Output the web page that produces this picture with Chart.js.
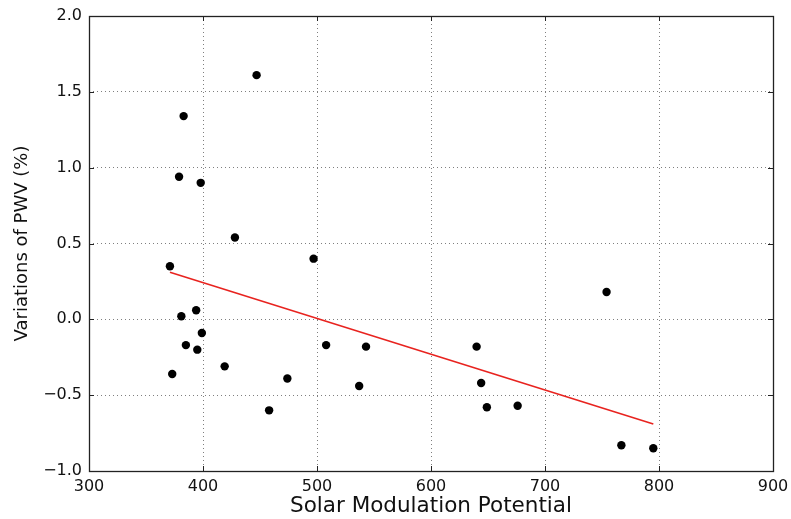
<!DOCTYPE html>
<html>
<head>
<meta charset="utf-8">
<script src="https://cdn.jsdelivr.net/npm/chart.js@4/dist/chart.umd.min.js"></script>
<style>
  html, body { margin: 0; padding: 0; background: #fff; }
  #wrap { width: 791px; height: 519px; }
</style>
</head>
<body>
<div id="wrap"><canvas id="pwvChart"></canvas></div>
<script>
// solar modulation potential vs. PWV variation
const modulation = [447, 383, 379, 398, 428, 371, 381, 394, 399, 385, 395, 419, 373,
                    497, 508, 543, 474, 537, 458, 640, 644, 649, 676, 754, 767, 795];
const pwvVariation = [1.61, 1.34, 0.94, 0.90, 0.54, 0.35, 0.02, 0.06, -0.09, -0.17, -0.20, -0.31, -0.36,
                      0.40, -0.17, -0.18, -0.39, -0.44, -0.60, -0.18, -0.42, -0.58, -0.57, 0.18, -0.83, -0.85];

// least-squares line end points
const fitX = [371, 795];
const fitY = [0.31, -0.69];

const xTicks = [300, 400, 500, 600, 700, 800, 900];
const yTicks = [-1.0, -0.5, 0.0, 0.5, 1.0, 1.5, 2.0];

const FONT = 'DejaVu Sans';

function fmtY(v) {
  const s = Math.abs(v).toFixed(1);
  return v < 0 ? '\u2212' + s : s;
}

// frame with inward ticks on all four sides
const frameTicks = {
  id: 'frameTicks',
  afterDraw(chart) {
    const { ctx, chartArea: a, scales } = chart;
    const len = 5;
    ctx.save();
    ctx.strokeStyle = '#222';
    ctx.lineWidth = 1;
    ctx.beginPath();
    xTicks.forEach(t => {
      const x = Math.round(scales.x.getPixelForValue(t)) + 0.5;
      ctx.moveTo(x, a.bottom); ctx.lineTo(x, a.bottom - len);
      ctx.moveTo(x, a.top); ctx.lineTo(x, a.top + len);
    });
    yTicks.forEach(t => {
      const y = Math.round(scales.y.getPixelForValue(t)) + 0.5;
      ctx.moveTo(a.left, y); ctx.lineTo(a.left + len, y);
      ctx.moveTo(a.right, y); ctx.lineTo(a.right - len, y);
    });
    ctx.stroke();
    ctx.lineWidth = 1.3;
    ctx.strokeRect(Math.round(a.left) + 0.5, Math.round(a.top) + 0.5,
                   Math.round(a.right - a.left), Math.round(a.bottom - a.top));
    ctx.restore();
  }
};

new Chart(document.getElementById('pwvChart'), {
  type: 'scatter',
  data: {
    datasets: [
      {
        data: modulation.map((x, i) => ({ x: x, y: pwvVariation[i] })),
        backgroundColor: '#000',
        borderWidth: 0,
        pointRadius: 4.2
      },
      {
        type: 'line',
        data: fitX.map((x, i) => ({ x: x, y: fitY[i] })),
        borderColor: '#e8231f',
        borderWidth: 1.6,
        pointRadius: 0,
        fill: false
      }
    ]
  },
  options: {
    responsive: true,
    maintainAspectRatio: false,
    animation: false,
    layout: { padding: { top: 16, right: 18, left: 0, bottom: 0 } },
    plugins: {
      legend: { display: false },
      tooltip: { enabled: false }
    },
    scales: {
      x: {
        type: 'linear',
        min: 300,
        max: 900,
        afterBuildTicks: s => { s.ticks = xTicks.map(v => ({ value: v })); },
        afterFit: s => { s.height = 48; s.paddingLeft = 0; s.paddingRight = 0; },
        grid: { color: 'rgba(0,0,0,0.5)', lineWidth: 1, drawTicks: false },
        border: { display: false, dash: [1, 3] },
        ticks: {
          padding: 6,
          color: '#111',
          font: { family: FONT, size: 16 },
          callback: v => String(v)
        },
        title: {
          display: true,
          text: 'Solar Modulation Potential',
          color: '#111',
          font: { family: FONT, size: 21.5 },
          padding: { top: 0, bottom: 0 }
        }
      },
      y: {
        type: 'linear',
        min: -1,
        max: 2,
        afterBuildTicks: s => { s.ticks = yTicks.map(v => ({ value: v })); },
        afterFit: s => { s.width = 89; s.paddingTop = 0; s.paddingBottom = 0; },
        grid: { color: 'rgba(0,0,0,0.5)', lineWidth: 1, drawTicks: false },
        border: { display: false, dash: [1, 3] },
        ticks: {
          padding: 7,
          color: '#111',
          font: { family: FONT, size: 16 },
          callback: v => fmtY(v)
        },
        title: {
          display: true,
          text: 'Variations of PWV (%)',
          color: '#111',
          font: { family: FONT, size: 18 },
          padding: { top: 12, bottom: 0 }
        }
      }
    }
  },
  plugins: [frameTicks]
});
</script>
</body>
</html>
